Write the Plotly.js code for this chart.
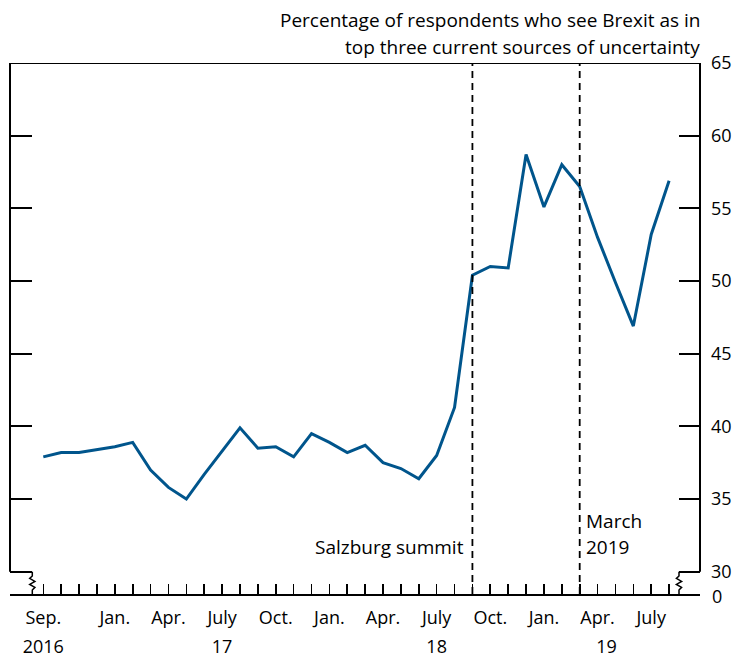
<!DOCTYPE html>
<html>
<head>
<meta charset="utf-8">
<script src="https://cdn.plot.ly/plotly-3.0.1.min.js"></script>
<style>
  html, body { margin: 0; padding: 0; background: #fff; }
  #chart { width: 748px; height: 663px; }
</style>
</head>
<body>
<div id="chart"></div>
<script>
// ---------------- Data ----------------
const months = [
  'Sep 2016','Oct 2016','Nov 2016','Dec 2016',
  'Jan 2017','Feb 2017','Mar 2017','Apr 2017','May 2017','Jun 2017',
  'Jul 2017','Aug 2017','Sep 2017','Oct 2017','Nov 2017','Dec 2017',
  'Jan 2018','Feb 2018','Mar 2018','Apr 2018','May 2018','Jun 2018',
  'Jul 2018','Aug 2018','Sep 2018','Oct 2018','Nov 2018','Dec 2018',
  'Jan 2019','Feb 2019','Mar 2019','Apr 2019','May 2019','Jun 2019',
  'Jul 2019','Aug 2019'
];
const brexitShare = [
  37.9, 38.2, 38.2, 38.4,
  38.6, 38.9, 37.0, 35.8, 35.0, 36.7,
  38.3, 39.9, 38.5, 38.6, 37.9, 39.5,
  38.9, 38.2, 38.7, 37.5, 37.1, 36.4,
  38.0, 41.3, 50.4, 51.0, 50.9, 58.7,
  55.1, 58.0, 56.5, 53.0, 49.9, 46.9,
  53.2, 56.9
];
const monthTickMonths = ['Sep 2016','Jan 2017','Apr 2017','Jul 2017','Oct 2017','Jan 2018','Apr 2018','Jul 2018','Oct 2018','Jan 2019','Apr 2019','Jul 2019'];
const monthTickText   = ['Sep.','Jan.','Apr.','July','Oct.','Jan.','Apr.','July','Oct.','Jan.','Apr.','July'];
const yearTickPos     = [0, 10, 22, 31.5];
const yearTickText    = ['2016','17','18','19'];
const janMonths       = ['Jan 2017','Jan 2018','Jan 2019'];
const yTickVals       = [30, 35, 40, 45, 50, 55, 60, 65];
const yTickText       = ['30','35','40','45','50','55','60','65'];
const yBreakLabel     = '0';
const eventMonths     = ['Sep 2018', 'Mar 2019'];
const eventLabels     = [['Salzburg summit'], ['March', '2019']];
const titleLines      = ['Percentage of respondents who see Brexit as in', 'top three current sources of uncertainty'];

// ---------------- Layout geometry ----------------
const W = 748, H = 663;
const mL = 10, mR = 48, mT = 63, mB = 69;
const plotW = W - mL - mR, plotH = H - mT - mB;
const pxTop = mT, pxBottom = H - mB;
const px30 = 571.7;                       // pixel row of the value 30
const unitPx = (px30 - pxTop) / (65 - 30);
const yMin = 30 - (pxBottom - px30) / unitPx;
const monthPx = 17.88, firstMonthPx = 43.3;
const xMin = -(firstMonthPx - mL) / monthPx;
const xMax = (mL + plotW - firstMonthPx) / monthPx;

const idx = months.map((_, i) => i);
const FONT = '"Open Sans", "Noto Sans", sans-serif';
const blue = '#00558c';

function pX(px) { return (px - mL) / plotW; }
function pY(py) { return (pxBottom - py) / plotH; }
function zigzag(xc) {
  const pts = [[xc, px30], [xc, 576], [xc - 2.6, 578.4], [xc + 2.6, 581.4], [xc - 2.6, 584.4], [xc + 2.6, 587.4], [xc, 590], [xc, pxBottom]];
  return pts.map((p, i) => (i ? 'L' : 'M') + pX(p[0]).toFixed(5) + ',' + pY(p[1]).toFixed(5)).join(' ');
}

const traces = [
  { x: idx, y: brexitShare, type: 'scatter', mode: 'lines',
    line: { color: blue, width: 3 }, hoverinfo: 'skip', showlegend: false, cliponaxis: false },
  { x: idx, y: brexitShare, type: 'scatter', mode: 'lines', xaxis: 'x2', yaxis: 'y2',
    line: { width: 0 }, opacity: 0, hoverinfo: 'skip', showlegend: false },
  { x: idx, y: brexitShare, type: 'scatter', mode: 'lines', xaxis: 'x3', yaxis: 'y3',
    line: { width: 0 }, opacity: 0, hoverinfo: 'skip', showlegend: false }
];

const shapes = [
  // frame
  { type: 'line', xref: 'paper', yref: 'y', x0: 0, x1: 1, y0: 65, y1: 65, line: { color: '#000', width: 2 } },
  { type: 'line', xref: 'paper', yref: 'y', x0: 0, x1: 0, y0: 30, y1: 65, line: { color: '#000', width: 2 } },
  { type: 'line', xref: 'paper', yref: 'y', x0: 1, x1: 1, y0: 30, y1: 65, line: { color: '#000', width: 2 } },
  // axis breaks
  { type: 'path', xref: 'paper', yref: 'paper', path: zigzag(32.3), line: { color: '#000', width: 1.5 } },
  { type: 'path', xref: 'paper', yref: 'paper', path: zigzag(679), line: { color: '#000', width: 1.5 } }
];
const annotations = [];
eventMonths.forEach((m, k) => {
  const xi = months.indexOf(m);
  shapes.push({ type: 'line', xref: 'x', yref: 'paper', x0: xi, x1: xi, y0: 0, y1: 1,
    line: { color: '#000', width: 1.8, dash: '7px,5px' } });
  const lines = eventLabels[k];
  const left = k === 1;
  lines.forEach((t, j) => {
    const centerPx = 547 - (lines.length - 1 - j) * 26;
    annotations.push({ xref: 'x', yref: 'paper', x: xi, y: pY(centerPx), text: t, showarrow: false,
      xanchor: left ? 'left' : 'right', yanchor: 'middle', xshift: left ? 4 : -6,
      font: { family: FONT, size: 19, color: '#000' } });
  });
});
titleLines.forEach((t, j) => {
  annotations.push({ xref: 'paper', yref: 'paper', x: 1, y: pY(20 + j * 26.7), text: t, showarrow: false,
    xanchor: 'right', yanchor: 'middle', xshift: 2, font: { family: FONT, size: 19, color: '#000' } });
});
// "0" label of the broken value axis (sits just below the plot area)
annotations.push({ xref: 'paper', yref: 'paper', x: 1, y: pY(595.5), text: yBreakLabel, showarrow: false,
  xanchor: 'left', yanchor: 'middle', xshift: 10, font: { family: FONT, size: 18, color: '#000' } });

const tickFont = { family: FONT, size: 18, color: '#000' };
const layout = {
  width: W, height: H,
  margin: { l: mL, r: mR, t: mT, b: mB, pad: 0 },
  paper_bgcolor: '#fff', plot_bgcolor: '#fff',
  showlegend: false,
  xaxis: {
    range: [xMin, xMax], showgrid: false, zeroline: false,
    showline: true, linecolor: '#000', linewidth: 2,
    tickmode: 'array', tickvals: janMonths.map(m => months.indexOf(m)), ticktext: janMonths.map(() => ''),
    ticks: 'inside', ticklen: 22, tickwidth: 1.6, tickcolor: '#000', showticklabels: false,
    minor: { tickmode: 'array', tickvals: idx, ticks: 'inside', ticklen: 10, tickwidth: 1.6, tickcolor: '#000', showgrid: false },
    fixedrange: true
  },
  xaxis2: {
    overlaying: 'x', anchor: 'y', side: 'bottom', range: [xMin, xMax],
    showgrid: false, zeroline: false, showline: false, ticks: '',
    tickmode: 'array', tickvals: monthTickMonths.map(m => months.indexOf(m)), ticktext: monthTickText,
    tickfont: tickFont, ticklabelstandoff: 11, fixedrange: true
  },
  xaxis3: {
    overlaying: 'x', anchor: 'y', side: 'bottom', range: [xMin, xMax],
    showgrid: false, zeroline: false, showline: false, ticks: '',
    tickmode: 'array', tickvals: yearTickPos, ticktext: yearTickText,
    tickfont: tickFont, ticklabelstandoff: 40, fixedrange: true
  },
  yaxis: {
    range: [yMin, 65], side: 'right', showgrid: false, zeroline: false, showline: false,
    tickmode: 'array', tickvals: yTickVals, ticktext: yTickText,
    ticks: '', tickfont: tickFont, ticklabelstandoff: 10, fixedrange: true
  },
  yaxis2: {
    overlaying: 'y', anchor: 'x', side: 'right', range: [yMin, 65],
    showgrid: false, zeroline: false, showline: false,
    tickmode: 'array', tickvals: yTickVals.slice(0, -1), showticklabels: false,
    ticks: 'inside', ticklen: 21, tickwidth: 2, tickcolor: '#000', fixedrange: true
  },
  yaxis3: {
    overlaying: 'y', anchor: 'x', side: 'left', range: [yMin, 65],
    showgrid: false, zeroline: false, showline: false,
    tickmode: 'array', tickvals: yTickVals.slice(0, -1), showticklabels: false,
    ticks: 'inside', ticklen: 22, tickwidth: 2, tickcolor: '#000', fixedrange: true
  },
  shapes: shapes,
  annotations: annotations
};

Plotly.newPlot('chart', traces, layout, { staticPlot: true, displayModeBar: false });
</script>
</body>
</html>
